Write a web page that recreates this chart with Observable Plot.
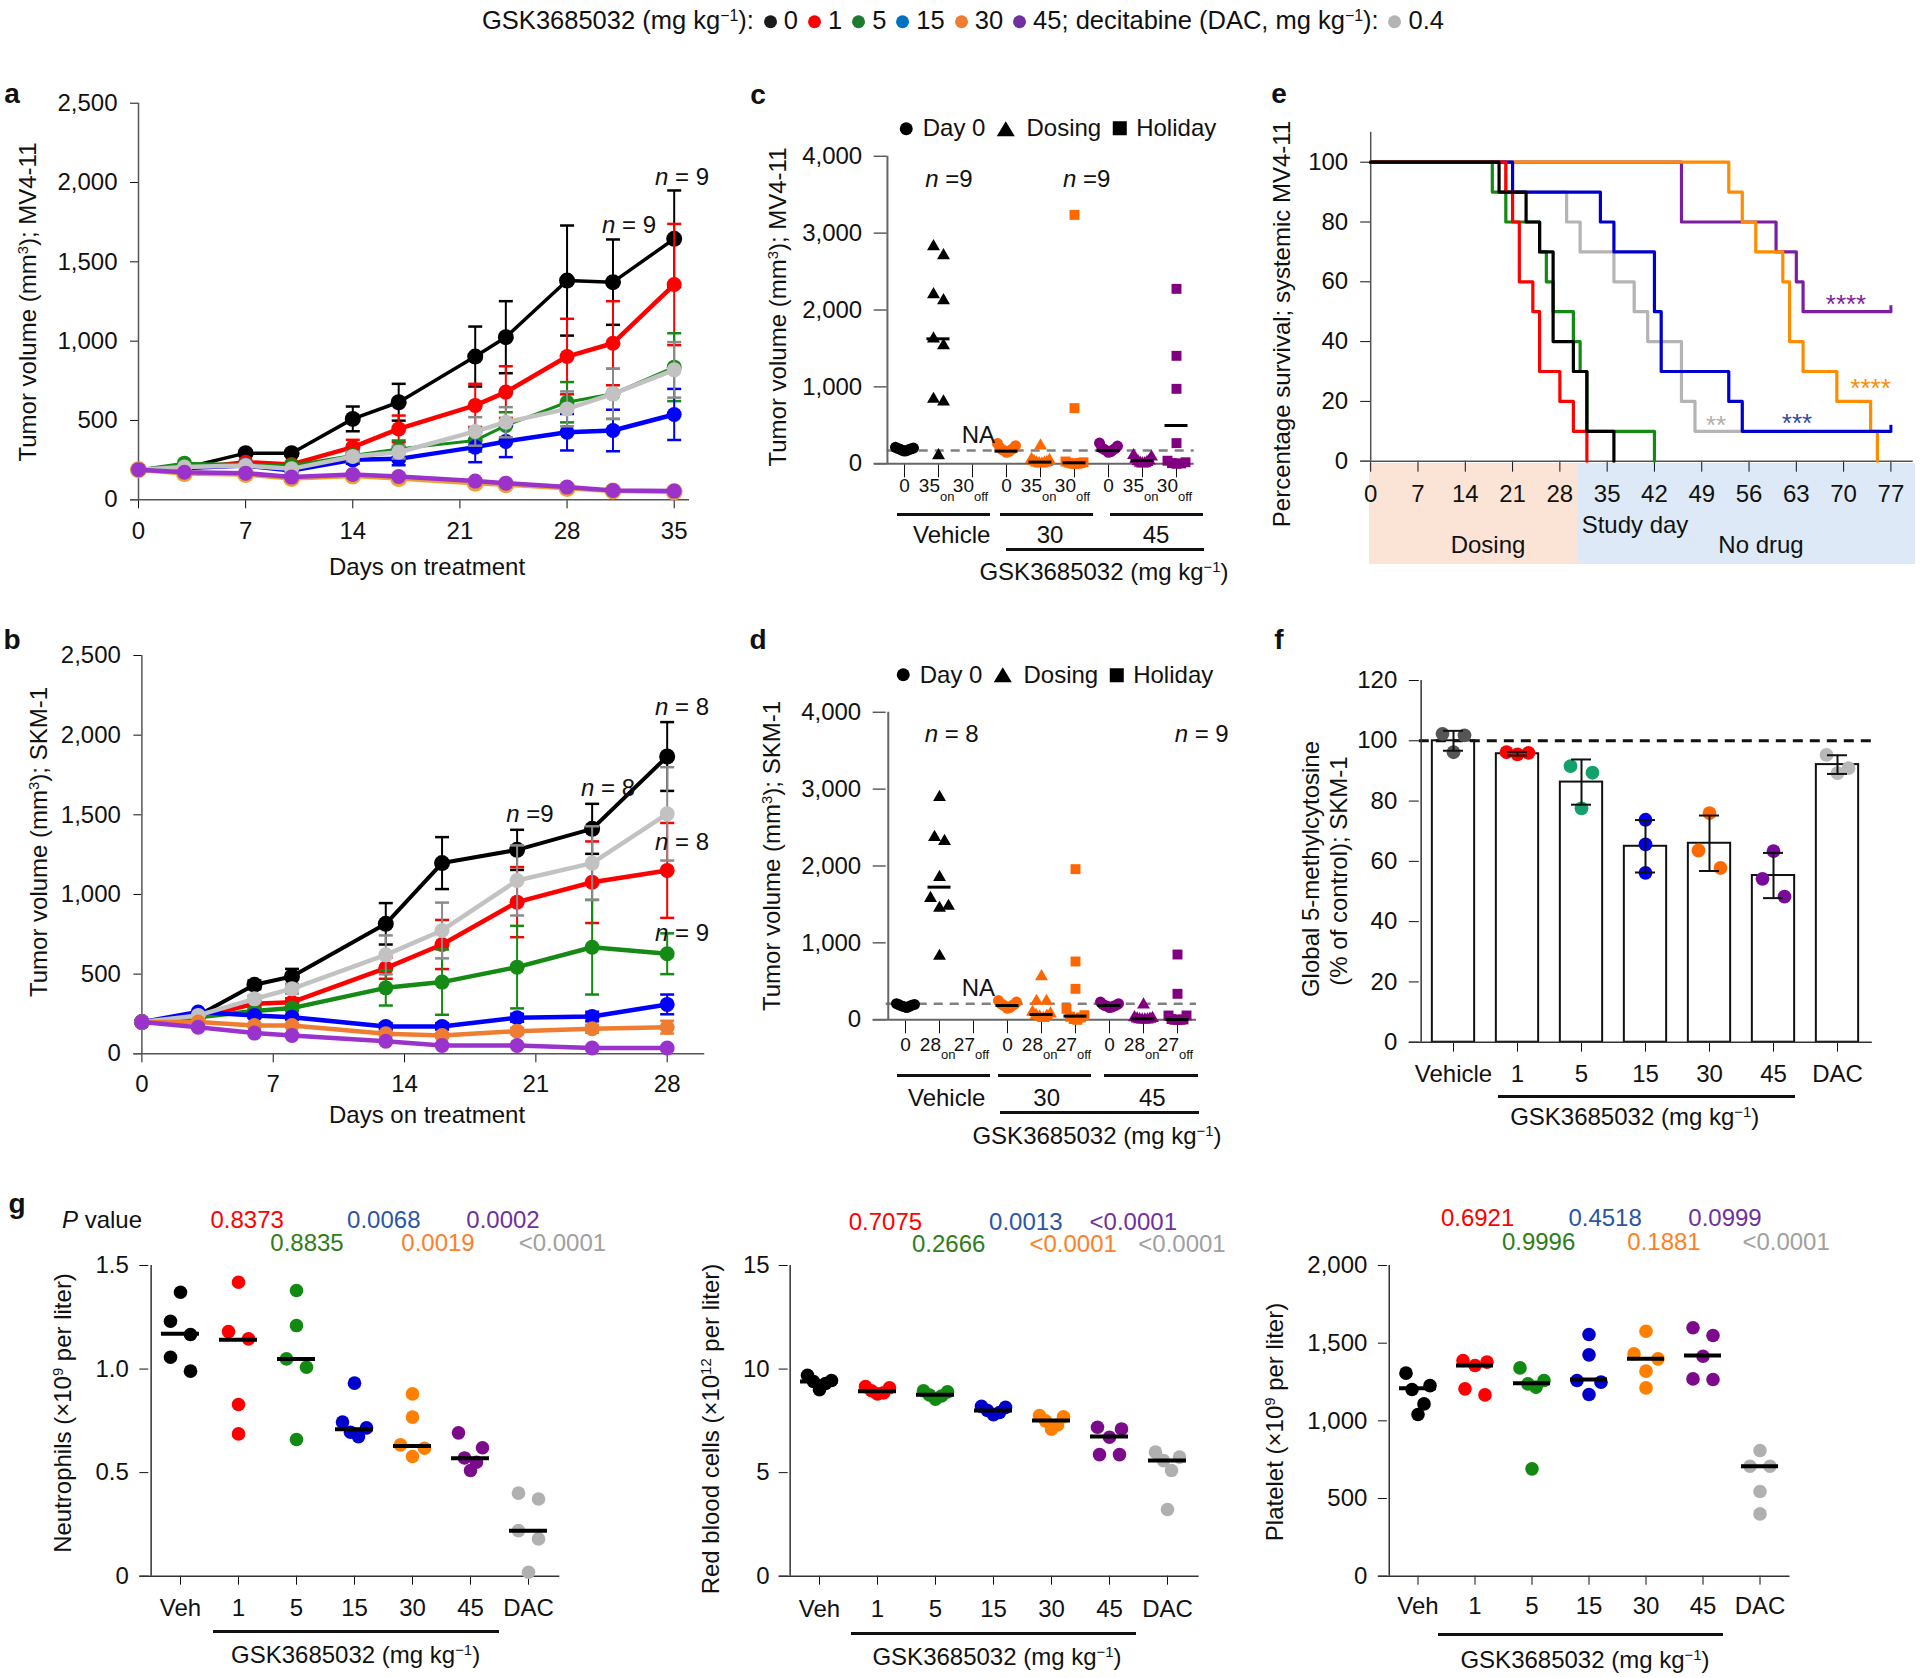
<!DOCTYPE html>
<html><head><meta charset="utf-8">
<script src="https://cdn.jsdelivr.net/npm/d3@7"></script>
<script src="https://cdn.jsdelivr.net/npm/@observablehq/plot@0.6"></script>
<style>
html,body{margin:0;padding:0;background:#fff;}
#root{position:relative;width:1920px;height:1678px;overflow:hidden;font-family:'Liberation Sans',Arial,Helvetica,sans-serif;color:#111;background:#fff;}
.t{position:absolute;white-space:nowrap;line-height:1;}
.sup{font-size:0.62em;vertical-align:0.55em;line-height:0;}
.u{position:absolute;background:#111;}
.ld{display:inline-block;width:13px;height:13px;border-radius:50%;margin:0 7px 0 10px;vertical-align:0.05em;}
</style></head><body><div id="root"></div>
<script>
// ---------------- DATA ----------------
// top legend
const legendDoses = ["0", "1", "5", "15", "30", "45"];
const legendColors = ["#1a1a1a", "#ff0000", "#1e7b2e", "#0070c0", "#ed7d31", "#7030a0"];
const dacDose = "0.4";
const dacColor = "#b4b4b4";

// panel a (MV4-11 growth)
const aDays = [0, 3, 7, 10, 14, 17, 22, 24, 28, 31, 35];
const aVeh = [190, 200, 294, 294, 510, 615, 903, 1025, 1382, 1372, 1645];
const aVehErr = [0, 10, 15, 15, 78, 116, 189, 227, 347, 269, 305];
const aD1 = [190, 195, 237, 223, 332, 447, 595, 679, 903, 987, 1357];
const aD1Err = [0, 8, 12, 12, 46, 84, 136, 163, 238, 265, 382];
const aD5 = [190, 231, 223, 216, 279, 321, 374, 468, 615, 668, 836];
const aD5Err = [0, 8, 10, 10, 25, 53, 70, 84, 127, 158, 214];
const aD15 = [190, 200, 216, 185, 252, 258, 332, 368, 426, 437, 538];
const aD15Err = [0, 8, 10, 10, 25, 40, 95, 99, 115, 131, 161];
const aD30 = [190, 165, 160, 135, 150, 135, 105, 95, 72, 55, 50];
const aD30Err = [0, 8, 8, 8, 10, 12, 12, 12, 12, 10, 10];
const aD45 = [190, 174, 168, 143, 160, 147, 118, 105, 80, 59, 55];
const aD45Err = [0, 8, 8, 8, 10, 12, 12, 12, 12, 10, 10];
const aDAC = [190, 206, 216, 195, 273, 300, 431, 489, 573, 668, 819];
const aDACErr = [0, 8, 10, 10, 30, 40, 90, 95, 110, 158, 175];

// panel b (SKM-1 growth)
const bDays = [0, 3, 6, 8, 13, 16, 20, 24, 28];
const bVeh = [199, 241, 433, 485, 816, 1197, 1280, 1412, 1866];
const bVehErr = [0, 10, 27, 48, 130, 163, 126, 157, 216];
const bD1 = [199, 230, 314, 324, 538, 686, 952, 1077, 1151];
const bD1Err = [0, 10, 20, 25, 67, 154, 220, 256, 298];
const bD5 = [199, 230, 268, 287, 414, 450, 544, 669, 628];
const bD5Err = [0, 10, 15, 20, 111, 205, 259, 297, 128];
const bD15 = [199, 262, 241, 230, 172, 172, 226, 234, 310];
const bD15Err = [0, 10, 15, 15, 20, 20, 25, 30, 62];
const bD30 = [199, 199, 178, 178, 126, 115, 142, 157, 167];
const bD30Err = [0, 8, 10, 10, 12, 15, 20, 25, 40];
const bD45 = [199, 167, 130, 115, 79, 52, 52, 36, 36];
const bD45Err = [0, 8, 8, 8, 10, 10, 10, 10, 10];
const bDAC = [199, 241, 345, 408, 621, 774, 1088, 1197, 1506];
const bDACErr = [0, 10, 20, 30, 122, 175, 220, 231, 293];

// panel c (MV4-11 individual)
const cKeys = ["v0", "vOn", "vOff", "m0", "mOn", "mOff", "h0", "hOn", "hOff"];
const cTickMain = ["0", "35", "30", "0", "35", "30", "0", "35", "30"];
const cTickSub = ["", "on", "off", "", "on", "off", "", "on", "off"];
const cVehDay0 = [200, 185, 165, 215, 190, 175, 205, 170, 195];
const cVehDosing = [2826, 2709, 2201, 2124, 1625, 1538, 841, 806, 108];
const cVehHoliday = [];
const c30Day0 = [265, 235, 200, 185, 170, 160, 150, 210, 180];
const c30Dosing = [235, 60, 45, 30, 20, 15, 10, 5, 0];
const c30Holiday = [3237, 724, 30, 20, 15, 10, 5, 0, 0];
const c45Day0 = [270, 230, 205, 190, 180, 170, 160, 150, 200];
const c45Dosing = [110, 90, 60, 40, 30, 20, 10, 5, 0];
const c45Holiday = [2275, 1404, 975, 269, 40, 20, 10, 5, 0];
const cCenters = [185, 1625, null, 165, 22, 13, 173, 43, 498];
const cThreshold = 173;

// panel d (SKM-1 individual)
const dTickMain = ["0", "28", "27", "0", "28", "27", "0", "28", "27"];
const dVehDay0 = [200, 180, 160, 210, 190, 170, 195, 175];
const dVehDosing = [2895, 2375, 2323, 1855, 1582, 1478, 1452, 828];
const dVehHoliday = [];
const d30Day0 = [250, 230, 210, 195, 185, 175, 160, 150, 200];
const d30Dosing = [563, 243, 243, 100, 80, 60, 50, 40, 20];
const d30Holiday = [1959, 758, 403, 143, 60, 40, 30, 10, 0];
const d45Day0 = [230, 210, 200, 190, 185, 175, 165, 160, 180];
const d45Dosing = [195, 30, 20, 15, 10, 5, 0, 0, 0];
const d45Holiday = [849, 338, 56, 56, 10, 5, 0, 0, 0];
const dCenters = [186, 1725, null, 186, 69, 48, 186, 13, 4];
const dThreshold = 208;

// panel e (survival, [study day, percent])
const eVeh = [[0, 100], [19, 90], [23, 80], [25, 70], [27, 40], [30, 30], [32, 10], [36, 0]];
const e1 = [[0, 100], [20, 90], [21, 80], [22, 60], [24, 50], [25, 30], [28, 20], [30, 10], [32, 0]];
const e5 = [[0, 100], [18, 90], [20, 80], [25, 70], [26, 60], [27, 50], [30, 40], [31, 30], [32, 10], [42, 0]];
const e15 = [[0, 100], [21, 90], [34, 80], [36, 70], [42, 50], [43, 30], [53, 20], [55, 10], [77, 10]];
const e30 = [[0, 100], [53, 90], [55, 80], [57, 70], [61, 60], [62, 40], [64, 30], [69, 20], [74, 10], [75, 0]];
const e45 = [[0, 100], [46, 80], [60, 70], [63, 60], [64, 50], [77, 50]];
const eDAC = [[0, 100], [20, 90], [29, 80], [31, 70], [36, 60], [39, 50], [41, 40], [46, 20], [48, 10], [55, 10]];
const eCensorDays = [77, 77];
const eCensorPct = [10, 50];
const ePhaseNames = ["Dosing", "No drug"];
const ePhaseFrom = [0, 30.6];
const ePhaseTo = [30.6, 80.6];

// panel f (global 5mC)
const fCats = ["Vehicle", "1", "5", "15", "30", "45", "DAC"];
const fMean = [100, 95.7, 86.3, 65.0, 66.0, 55.3, 92.1];
const fSD = [3.3, 0.6, 7.5, 8.7, 9.2, 7.5, 3.1];
const fPoints = [[102.3, 101.8, 96.2], [96.2, 96.0, 95.5], [91.6, 89.4, 77.6], [73.8, 65.6, 56.2], [76.0, 63.6, 57.8], [63.4, 54.2, 48.3], [95.3, 90.9, 89.3]];
const fColors = ["#555555", "#ff0000", "#14a06a", "#0000ee", "#ff6a00", "#7a0a9a", "#b8b8b8"];

// panel g (blood counts)
const gCats = ["Veh", "1", "5", "15", "30", "45", "DAC"];
const gColors = ["#000000", "#ff0000", "#128a12", "#0000cc", "#ff8000", "#7b0b8b", "#b0b0b0"];
const neutro = [[1.371, 1.231, 1.167, 1.057, 0.990], [1.419, 1.181, 1.146, 0.829, 0.687], [1.379, 1.210, 1.049, 1.009, 0.660], [0.932, 0.744, 0.716, 0.695, 0.674], [0.880, 0.768, 0.634, 0.618, 0.578], [0.692, 0.620, 0.571, 0.550, 0.510], [0.401, 0.373, 0.220, 0.180, 0.019]];
const neutroMed = [1.170, 1.141, 1.049, 0.710, 0.629, 0.570, 0.220];
const rbc = [[9.70, 9.45, 9.40, 9.30, 9.00], [9.15, 9.10, 8.95, 8.85, 8.80], [8.95, 8.90, 8.75, 8.70, 8.55], [8.20, 8.15, 8.00, 7.90, 7.80], [7.75, 7.70, 7.50, 7.30, 7.10], [7.19, 7.11, 6.71, 5.87, 5.87], [5.99, 5.75, 5.58, 5.10, 3.22]];
const rbcMed = [9.40, 8.93, 8.76, 8.00, 7.52, 6.74, 5.58];
const plt = [[1307, 1227, 1202, 1109, 1041], [1388, 1378, 1356, 1206, 1167], [1341, 1260, 1238, 1217, 691], [1556, 1425, 1260, 1249, 1170], [1577, 1431, 1399, 1320, 1212], [1599, 1549, 1416, 1270, 1266], [809, 708, 708, 545, 401]];
const pltMed = [1210, 1356, 1242, 1266, 1399, 1421, 708];
const pColors = ["#ff0000", "#2e7d1a", "#2b55a5", "#ff7f27", "#7030a0", "#a0a0a0"];
const pNeut = ["0.8373", "0.8835", "0.0068", "0.0019", "0.0002", "<0.0001"];
const pRbc = ["0.7075", "0.2666", "0.0013", "<0.0001", "<0.0001", "<0.0001"];
const pPlt = ["0.6921", "0.9996", "0.4518", "0.1881", "0.0999", "<0.0001"];

// ---------------- HELPERS ----------------
const FONT = "'Liberation Sans', Arial, Helvetica, sans-serif";
const root = document.getElementById("root");
const comma = d3.format(",");
function T(html, x, y, o = {}) {
  const d = document.createElement("div");
  d.className = "t";
  d.innerHTML = html;
  d.style.left = x + "px";
  d.style.top = y + "px";
  d.style.fontSize = (o.size || 24) + "px";
  if (o.color) d.style.color = o.color;
  if (o.bold) d.style.fontWeight = "bold";
  d.style.transform = "translate(-50%,-50%)" + (o.rot ? " rotate(" + o.rot + "deg)" : "");
  root.appendChild(d);
  return d;
}
function U(x1, x2, y, w = 3) {
  const d = document.createElement("div");
  d.className = "u";
  Object.assign(d.style, {left: x1 + "px", top: (y - w / 2) + "px", width: (x2 - x1) + "px", height: w + "px"});
  root.appendChild(d);
}
function place(el, left, top) {
  el.style.position = "absolute";
  el.style.left = left + "px";
  el.style.top = top + "px";
  root.appendChild(el);
}
const STYLE = {background: "transparent", overflow: "visible", fontFamily: FONT, fontSize: "24px", color: "#111"};
const cap = {draw(ctx, size) { const w = Math.sqrt(size / Math.PI); ctx.moveTo(-w, 0); ctx.lineTo(w, 0); }};
const sup = s => '<span class="sup">' + s + '</span>';
const GSK = 'GSK3685032 (mg kg' + sup('\u22121') + ')';

function spread(values, ppu, thresh, slot, maxHalf) {
  const n0 = values.length;
  const off = new Array(n0).fill(0);
  if (!n0) return off;
  const order = d3.range(n0).sort((a, b) => values[b] - values[a]);
  const clusters = [];
  let cur = [order[0]];
  for (let k = 1; k < order.length; k++) {
    const i = order[k], prev = cur[cur.length - 1];
    if ((values[prev] - values[i]) * ppu < thresh) cur.push(i);
    else { clusters.push(cur); cur = [i]; }
  }
  clusters.push(cur);
  for (const c of clusters) {
    const n = c.length;
    if (n < 2) continue;
    const step = Math.min(slot, (2 * maxHalf) / (n - 1));
    const pos = d3.range(n).map(k => (k - (n - 1) / 2) * step);
    let lo = 0, hi = n - 1;
    c.forEach((idx, j) => { off[idx] = j % 2 === 0 ? pos[lo++] : pos[hi--]; });
  }
  return off.map(v => Math.round(v * 10) / 10);
}
function dotGroups(points, r) {
  return d3.groups(points, p => p.key + "|" + p.off + "|" + p.sym).map(([, arr]) =>
    Plot.dot(arr, {x: "key", y: "v", dx: arr[0].off, r: r[arr[0].sym] || r.circle, fill: arr[0].color, symbol: arr[0].sym}));
}

// ---------------- TOP LEGEND ----------------
{
  let html = GSK + ':';
  legendDoses.forEach((d, i) => {
    html += '<span class="ld" style="background:' + legendColors[i] + '"></span>' + d;
  });
  html += '; decitabine (DAC, mg kg' + sup('\u22121') + '):<span class="ld" style="background:' + dacColor + '"></span>' + dacDose;
  T(html, 963, 21, {size: 25.5});
}

// ---------------- GROWTH PANELS (a, b) ----------------
function growthPanel(days, series, cfg) {
  const marks = [
    Plot.ruleY([0], {stroke: "#555", strokeWidth: 1.5, insetLeft: -8}),
    Plot.ruleX([0], {stroke: "#555", strokeWidth: 1.5})
  ];
  for (const s of series) {
    const rows = days.map((d, i) => ({day: d, v: s.v[i], e: s.e[i]}));
    const er = rows.filter(r => r.e > 12);
    const ec = s.errColor || s.color;
    marks.push(
      Plot.ruleX(er, {x: "day", y1: r => r.v - r.e, y2: r => r.v + r.e, stroke: ec, strokeWidth: 2}),
      Plot.dot(er, {x: "day", y: r => r.v + r.e, symbol: cap, r: 7, fill: "none", stroke: ec, strokeWidth: 2.5}),
      Plot.dot(er, {x: "day", y: r => r.v - r.e, symbol: cap, r: 7, fill: "none", stroke: ec, strokeWidth: 2.5}),
      Plot.line(rows, {x: "day", y: "v", stroke: s.color, strokeWidth: s.lw || 4.5}),
      Plot.dot(rows, {x: "day", y: "v", r: s.r || 7.5, fill: s.color})
    );
  }
  return Plot.plot({
    width: cfg.width, height: cfg.height,
    marginLeft: cfg.mL, marginRight: cfg.mR, marginTop: cfg.mT, marginBottom: cfg.mB,
    x: {domain: cfg.xDomain, ticks: cfg.xTicks, tickSize: 9, tickPadding: cfg.xPad, label: null},
    y: {domain: [0, 2500], ticks: [0, 500, 1000, 1500, 2000, 2500], tickFormat: comma, tickSize: 8, tickPadding: 13, label: null},
    style: STYLE,
    marks
  });
}
const growthColors = {veh: "#000000", d1: "#ff0000", d5: "#158a15", d15: "#0000ff", d30: "#f0a030", d45: "#9933cc", dac: "#c2c2c2"};
const aPlot = growthPanel(aDays, [
  {v: aVeh, e: aVehErr, color: growthColors.veh, lw: 3.5, r: 8},
  {v: aD1, e: aD1Err, color: growthColors.d1},
  {v: aD5, e: aD5Err, color: growthColors.d5, lw: 3},
  {v: aD15, e: aD15Err, color: growthColors.d15},
  {v: aDAC, e: aDACErr, color: growthColors.dac, errColor: "#8a8a8a"},
  {v: aD30, e: aD30Err, color: growthColors.d30, r: 8.5},
  {v: aD45, e: aD45Err, color: growthColors.d45}
], {width: 720, height: 500, mL: 138, mR: 31, mT: 42.7, mB: 60.7, xDomain: [0, 36], xTicks: [0, 7, 14, 21, 28, 35], xPad: 13});
place(aPlot, 0, 60);

const bPlot = growthPanel(bDays, [
  {v: bVeh, e: bVehErr, color: growthColors.veh, lw: 4, r: 8},
  {v: bD1, e: bD1Err, color: growthColors.d1},
  {v: bD5, e: bD5Err, color: growthColors.d5},
  {v: bD15, e: bD15Err, color: growthColors.d15},
  {v: bDAC, e: bDACErr, color: growthColors.dac, errColor: "#8a8a8a"},
  {v: bD30, e: bD30Err, color: "#ee7d31"},
  {v: bD45, e: bD45Err, color: growthColors.d45}
], {width: 720, height: 500, mL: 141.4, mR: 15.8, mT: 35, mB: 66.7, xDomain: [0, 30], xTicks: [0, 7, 14, 21, 28], xPad: 12});
place(bPlot, 0, 620);

T('a', 12, 94, {bold: true, size: 28});
T('b', 12, 640, {bold: true, size: 28});
T('Days on treatment', 427, 567);
T('Days on treatment', 427, 1115);
T('Tumor volume (mm' + sup('3') + '); MV4-11', 27.5, 302, {rot: -90});
T('Tumor volume (mm' + sup('3') + '); SKM-1', 39, 842, {rot: -90});
T('<i>n</i> = 9', 682, 177);
T('<i>n</i> = 9', 629, 225);
T('<i>n</i> = 8', 682, 707);
T('<i>n</i> = 8', 608, 788);
T('<i>n</i> =9', 530, 814);
T('<i>n</i> = 8', 682, 842);
T('<i>n</i> = 9', 682, 933);

// ---------------- INDIVIDUAL PANELS (c, d) ----------------
function scatterPanel(cfg) {
  const ppu = (cfg.height - cfg.mT - cfg.mB) / 4000;
  const bw = (cfg.width - cfg.mL - cfg.mR) / cfg.keys.length;
  const pts = cfg.keys.flatMap((k, i) => {
    const offs = spread(cfg.vals[i], ppu, 10, 10, 9);
    return cfg.vals[i].map((v, j) => ({key: k, v, off: offs[j], color: cfg.colors[i], sym: cfg.syms[i]}));
  });
  const ticks = cfg.keys.map((k, i) => ({key: k, main: cfg.tickMain[i], sub: cfg.tickSub[i]}));
  const centers = cfg.keys.map((k, i) => ({key: k, v: cfg.centers[i]})).filter(d => d.v != null);
  return Plot.plot({
    width: cfg.width, height: cfg.height,
    marginLeft: cfg.mL, marginRight: cfg.mR, marginTop: cfg.mT, marginBottom: cfg.mB,
    x: {type: "band", domain: cfg.keys, padding: 0, tickSize: 14, tickFormat: () => "", label: null},
    y: {domain: [0, 4000], ticks: [0, 1000, 2000, 3000, 4000], tickFormat: comma, tickSize: 13, tickPadding: 12, label: null},
    style: STYLE,
    marks: [
      Plot.ruleY([cfg.threshold], {stroke: "#808080", strokeWidth: 2.5, strokeDasharray: "9,7"}),
      Plot.ruleY([0], {stroke: "#666", strokeWidth: 2, insetLeft: -13}),
      Plot.ruleX([cfg.keys[0]], {dx: -bw / 2, stroke: "#666", strokeWidth: 2}),
      ...dotGroups(pts, {circle: 5.5, triangle: 4.8, square: 5.6}),
      Plot.tickY(centers, {x: "key", y: "v", insetLeft: 5.5, insetRight: 5.5, stroke: "#000", strokeWidth: 3}),
      Plot.text(ticks.filter(d => !d.sub), {x: "key", text: "main", frameAnchor: "bottom", dy: cfg.tickDy, fontSize: 19}),
      Plot.text(ticks.filter(d => d.sub), {x: "key", text: "main", frameAnchor: "bottom", dy: cfg.tickDy, dx: 1.5, textAnchor: "end", fontSize: 19}),
      Plot.text(ticks.filter(d => d.sub), {x: "key", text: "sub", frameAnchor: "bottom", dy: cfg.tickDy + 8.3, dx: 1.5, textAnchor: "start", fontSize: 13})
    ]
  });
}
const cdSyms = ["circle", "triangle", "square", "circle", "triangle", "square", "circle", "triangle", "square"];
const cdColors = ["#000000", "#000000", "#000000", "#ff6600", "#ff6600", "#ff6600", "#800080", "#800080", "#800080"];
const cPlot = scatterPanel({
  keys: cKeys, tickMain: cTickMain, tickSub: cTickSub, syms: cdSyms, colors: cdColors,
  vals: [cVehDay0, cVehDosing, cVehHoliday, c30Day0, c30Dosing, c30Holiday, c45Day0, c45Dosing, c45Holiday],
  centers: cCenters, threshold: cThreshold,
  width: 520, height: 500, mL: 146.7, mR: 66.3, mT: 65.7, mB: 126.7, tickDy: 28.4
});
place(cPlot, 740, 90);
const dPlot = scatterPanel({
  keys: cKeys, tickMain: dTickMain, tickSub: cTickSub, syms: cdSyms, colors: cdColors,
  vals: [dVehDay0, dVehDosing, dVehHoliday, d30Day0, d30Dosing, d30Holiday, d45Day0, d45Dosing, d45Holiday],
  centers: dCenters, threshold: dThreshold,
  width: 520, height: 500, mL: 145.7, mR: 64, mT: 71.7, mB: 120.7, tickDy: 30.7
});
place(dPlot, 740, 640);

function symLegend(x, y) {
  const html = '<span style="display:inline-flex;align-items:center">' +
    '<span style="display:inline-block;width:13px;height:13px;border-radius:50%;background:#000;margin-right:10px"></span>Day 0' +
    '<span style="display:inline-block;width:0;height:0;border-left:9px solid transparent;border-right:9px solid transparent;border-bottom:15px solid #000;margin:0 12px 0 11px"></span>Dosing' +
    '<span style="display:inline-block;width:14px;height:14px;background:#000;margin:0 9px 0 12px"></span>Holiday</span>';
  T(html, x, y);
}
symLegend(1058, 127.7);
symLegend(1055, 674.3);
T('c', 758, 95, {bold: true, size: 28});
T('d', 758, 640, {bold: true, size: 28});
T('Tumor volume (mm' + sup('3') + '); MV4-11', 778, 307, {rot: -90});
T('Tumor volume (mm' + sup('3') + '); SKM-1', 772, 856, {rot: -90});
T('<i>n</i> =9', 949, 179);
T('<i>n</i> =9', 1086.7, 179);
T('NA', 978.3, 435);
T('<i>n</i> = 8', 951.7, 734);
T('<i>n</i> = 9', 1201.7, 734);
T('NA', 978.3, 988);
U(896.7, 990, 514.3); U(1000, 1093.3, 514.3); U(1110, 1203.3, 514.3);
T('Vehicle', 951.7, 535); T('30', 1050, 535); T('45', 1156, 535);
U(1005.7, 1204.3, 549.3);
T(GSK, 1104, 571.7);
U(896.7, 990, 1075); U(997.7, 1090.7, 1075); U(1104.3, 1197.7, 1075);
T('Vehicle', 946.7, 1098.3); T('30', 1046.7, 1098.3); T('45', 1152.3, 1098.3);
U(1000, 1199.3, 1112.7);
T(GSK, 1097, 1135.7);

// ---------------- SURVIVAL (e) ----------------
const eSeries = [
  {pts: eDAC, color: "#b4b4b4"}, {pts: e45, color: "#7b1fa2"}, {pts: e30, color: "#ff8c00"},
  {pts: e15, color: "#0000cc"}, {pts: e5, color: "#138a13"}, {pts: e1, color: "#ff0000"}, {pts: eVeh, color: "#000000"}
];
const eCensor = eCensorDays.map((d, i) => ({day: d, p: eCensorPct[i], color: i === 0 ? "#0000cc" : "#7b1fa2"}));
const ePlot = Plot.plot({
  width: 640, height: 500, marginLeft: 90.2, marginRight: 7.3, marginTop: 41.8, marginBottom: 129.3,
  x: {domain: [0, 80.3], ticks: d3.range(0, 78, 7), tickSize: 11, tickPadding: 13, label: null},
  y: {domain: [0, 110], ticks: [0, 20, 40, 60, 80, 100], tickSize: 10, tickPadding: 12.5, label: null},
  style: STYLE,
  marks: [
    Plot.ruleY([0], {stroke: "#555", strokeWidth: 1.5, insetLeft: -10}),
    Plot.ruleX([0], {stroke: "#555", strokeWidth: 1.5}),
    ...eSeries.map(s => Plot.line(s.pts, {x: d => d[0], y: d => d[1], curve: "step-after", stroke: s.color, strokeWidth: 3.2})),
    Plot.ruleX(eCensor, {x: "day", y1: "p", y2: d => d.p + 2, stroke: "color", strokeWidth: 3})
  ]
});
{
  const sx = ePlot.scale("x");
  const cols = ["#fbe4d5", "#dde9f6"];
  ePhaseNames.forEach((name, i) => {
    const d = document.createElement("div");
    const x1 = 1280 + sx.apply(ePhaseFrom[i]) - (i === 0 ? 1 : 0);
    const x2 = 1280 + sx.apply(ePhaseTo[i]);
    Object.assign(d.style, {position: "absolute", left: x1 + "px", width: (x2 - x1) + "px", top: "462.7px", height: "101.3px", background: cols[i]});
    root.appendChild(d);
  });
}
place(ePlot, 1280, 90);
T('e', 1279, 94, {bold: true, size: 28});
T('Percentage survival; systemic MV4-11', 1282, 324, {rot: -90});
T('Study day', 1635, 525);
T('Dosing', 1488, 545);
T('No drug', 1761, 545);
T('****', 1846, 304, {color: "#7b1fa2", size: 26});
T('****', 1870.6, 388, {color: "#ff8c00", size: 26});
T('***', 1797, 423, {color: "#2a4ea8", size: 26});
T('**', 1716, 425, {color: "#b0b0b0", size: 26});

// ---------------- BAR PANEL (f) ----------------
{
  const W = 640, H = 520, mL = 138.8, mR = 48.2, mT = 60, mB = 98.3;
  const ppu = (H - mT - mB) / 120;
  const bw = (W - mL - mR) / fCats.length;
  const rows = fCats.map((c, i) => ({cat: c, mean: fMean[i], sd: fSD[i]}));
  const pts = fCats.flatMap((c, i) => {
    const offs = spread(fPoints[i], ppu, 18, 22, 11);
    return fPoints[i].map((v, j) => ({key: c, v, off: offs[j], color: fColors[i], sym: "circle"}));
  });
  const fPlot = Plot.plot({
    width: W, height: H, marginLeft: mL, marginRight: mR, marginTop: mT, marginBottom: mB,
    x: {type: "band", domain: fCats, padding: 0, tickSize: 10, tickPadding: 13, label: null},
    y: {domain: [0, 120], ticks: d3.range(0, 121, 20), tickSize: 10, tickPadding: 12, label: null},
    style: STYLE,
    marks: [
      Plot.barY(rows, {x: "cat", y: "mean", insetLeft: 10.85, insetRight: 10.85, fill: "white", stroke: "#111", strokeWidth: 2}),
      Plot.ruleY([100], {stroke: "#111", strokeWidth: 3, strokeDasharray: "10,7"}),
      ...dotGroups(pts, {circle: 6.9}),
      Plot.ruleX(rows, {x: "cat", y1: d => d.mean - d.sd, y2: d => d.mean + d.sd, stroke: "#111", strokeWidth: 2}),
      Plot.tickY(rows, {x: "cat", y: d => d.mean + d.sd, insetLeft: 22, insetRight: 22, stroke: "#111", strokeWidth: 2}),
      Plot.tickY(rows, {x: "cat", y: d => d.mean - d.sd, insetLeft: 22, insetRight: 22, stroke: "#111", strokeWidth: 2}),
      Plot.ruleY([0], {stroke: "#333", strokeWidth: 1.5, insetLeft: -10}),
      Plot.ruleX([fCats[0]], {dx: -bw / 2, stroke: "#333", strokeWidth: 1.5})
    ]
  });
  place(fPlot, 1280, 620);
}
T('f', 1279, 640, {bold: true, size: 28});
T('Global 5-methylcytosine', 1310.6, 869, {rot: -90});
T('(% of control); SKM-1', 1339, 871, {rot: -90});
U(1498, 1795, 1096);
T(GSK, 1634.7, 1117);

// ---------------- BLOOD PANELS (g) ----------------
function gPanel(cfg) {
  const ppu = (cfg.height - cfg.mT - cfg.mB) / cfg.domain[1];
  const bw = (cfg.width - cfg.mL - cfg.mR) / gCats.length;
  const pts = gCats.flatMap((c, i) => {
    const offs = spread(cfg.vals[i], ppu, 15, 20, 12);
    return cfg.vals[i].map((v, j) => ({key: c, v, off: offs[j], color: gColors[i], sym: "circle"}));
  });
  const meds = gCats.map((c, i) => ({key: c, v: cfg.meds[i]}));
  return Plot.plot({
    width: cfg.width, height: cfg.height, marginLeft: cfg.mL, marginRight: cfg.mR, marginTop: cfg.mT, marginBottom: cfg.mB,
    x: {type: "band", domain: gCats, padding: 0, tickSize: 9, tickPadding: cfg.xPad, label: null},
    y: {domain: cfg.domain, ticks: cfg.ticks, tickFormat: cfg.fmt, tickSize: 9, tickPadding: cfg.yPad, label: null},
    style: STYLE,
    marks: [
      Plot.ruleY([0], {stroke: "#333", strokeWidth: 1.5, insetLeft: -9}),
      Plot.ruleX([gCats[0]], {dx: -bw / 2, stroke: "#333", strokeWidth: 1.5}),
      ...dotGroups(pts, {circle: 6.8}),
      Plot.tickY(meds, {x: "key", y: "v", insetLeft: 10, insetRight: 10, stroke: "#000", strokeWidth: 4})
    ]
  });
}
const g1 = gPanel({vals: neutro, meds: neutroMed, domain: [0, 1.5], ticks: [0, 0.5, 1, 1.5], fmt: d => d === 0 ? "0" : d.toFixed(1),
  width: 680, height: 498, mL: 148.3, mR: 120.7, mT: 85, mB: 102.3, xPad: 13.5, yPad: 11});
place(g1, 0, 1180);
const g2 = gPanel({vals: rbc, meds: rbcMed, domain: [0, 15], ticks: [0, 5, 10, 15], fmt: d => String(d),
  width: 620, height: 498, mL: 127.7, mR: 81.4, mT: 85, mB: 102.3, xPad: 15, yPad: 9.5});
place(g2, 660, 1180);
const g3 = gPanel({vals: plt, meds: pltMed, domain: [0, 2000], ticks: [0, 500, 1000, 1500, 2000], fmt: comma,
  width: 660, height: 498, mL: 126.9, mR: 130.5, mT: 85, mB: 102.3, xPad: 12, yPad: 11});
place(g3, 1260, 1180);

T('g', 17, 1204, {bold: true, size: 28});
T('<i>P</i> value', 102, 1220);
function pRow(vals, xs1, xs2, y1, y2) {
  [0, 2, 4].forEach((k, j) => T(vals[k], xs1[j], y1, {color: pColors[k]}));
  [1, 3, 5].forEach((k, j) => T(vals[k], xs2[j], y2, {color: pColors[k]}));
}
pRow(pNeut, [247.2, 383.8, 503], [307, 438, 562.4], 1220, 1243.3);
pRow(pRbc, [885.4, 1025.8, 1133.3], [948.7, 1073.2, 1182], 1221.7, 1244.3);
pRow(pPlt, [1477.6, 1605.1, 1725], [1538.6, 1664, 1786.1], 1218.3, 1241.7);
T('Neutrophils (\u00d710' + sup('9') + ' per liter)', 62.9, 1413, {rot: -90});
T('Red blood cells (\u00d710' + sup('12') + ' per liter)', 711.4, 1429, {rot: -90});
T('Platelet (\u00d710' + sup('9') + ' per liter)', 1274.7, 1421.7, {rot: -90});
U(212.5, 498.7, 1631.7); T(GSK, 355.6, 1655);
U(851, 1135.7, 1633.3); T(GSK, 997, 1657.3);
U(1437.6, 1723, 1634); T(GSK, 1585, 1660);
</script></body></html>
